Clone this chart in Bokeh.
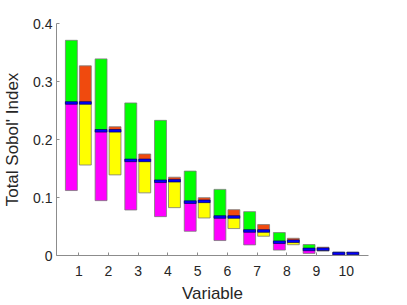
from bokeh.plotting import figure
from bokeh.models import Range1d, FixedTicker, ColumnDataSource
from bokeh.embed import file_html
from bokeh.resources import INLINE

# ---- data ----
variables = [1, 2, 3, 4, 5, 6, 7, 8, 9, 10]

# first estimator (magenta lower part / green upper part)
a_low  = [0.112, 0.0946, 0.0785, 0.067, 0.0418, 0.0258, 0.0183, 0.0093, 0.0036, 0.0005]
a_med  = [0.263, 0.215, 0.164, 0.128, 0.092, 0.0664, 0.0423, 0.0229, 0.0105, 0.0034]
a_high = [0.371, 0.339, 0.263, 0.233, 0.1455, 0.114, 0.0756, 0.0395, 0.0189, 0.0057]

# second estimator (yellow lower part / orange upper part)
b_low  = [0.156, 0.139, 0.108, 0.0825, 0.0647, 0.0464, 0.0332, 0.0186, 0.0076, 0.0008]
b_med  = [0.263, 0.215, 0.164, 0.129, 0.0934, 0.0664, 0.0423, 0.0246, 0.0108, 0.0034]
b_high = [0.327, 0.222, 0.175, 0.135, 0.0997, 0.079, 0.0533, 0.0297, 0.0143, 0.0055]

y_ticks = [0, 0.1, 0.2, 0.3, 0.4]
y_tick_labels = ["0", "0.1", "0.2", "0.3", "0.4"]

# ---- layout constants ----
OFF_A, OFF_B, HALF_W = -0.25, 0.22, 0.2
FONT = "Liberation Sans"
EDGE = "#7a7a7a"

xa = [v + OFF_A for v in variables]
xb = [v + OFF_B for v in variables]

src = ColumnDataSource(dict(
    xa=xa, xb=xb,
    xa_l=[x - HALF_W for x in xa], xa_r=[x + HALF_W for x in xa],
    xb_l=[x - HALF_W for x in xb], xb_r=[x + HALF_W for x in xb],
    a_low=a_low, a_med=a_med, a_high=a_high,
    b_low=b_low, b_med=b_med, b_high=b_high,
))

p = figure(width=400, height=305, output_backend="svg", toolbar_location=None,
           x_range=Range1d(0.25, 10.75), y_range=Range1d(0, 0.4),
           min_border_left=54, min_border_right=32, min_border_top=23, min_border_bottom=50)
p.outline_line_color = None
p.xgrid.visible = False
p.ygrid.visible = False
p.background_fill_color = "white"
p.border_fill_color = "white"

common = dict(source=src, line_color=EDGE, line_width=1, line_alpha=0.8)
p.quad(left="xa_l", right="xa_r", bottom="a_low", top="a_med", fill_color="#FF00FF", **common)
p.quad(left="xa_l", right="xa_r", bottom="a_med", top="a_high", fill_color="#00FF00", **common)
p.quad(left="xb_l", right="xb_r", bottom="b_low", top="b_med", fill_color="#FFFF00", **common)
p.quad(left="xb_l", right="xb_r", bottom="b_med", top="b_high", fill_color="#F04A0E", **common)

p.rect(x="xa", y="a_med", width=2 * HALF_W, height=2.6, height_units="screen", source=src,
       fill_color="#0000FF", line_color="#000060", line_width=0.7)
p.rect(x="xb", y="b_med", width=2 * HALF_W, height=2.6, height_units="screen", source=src,
       fill_color="#0000FF", line_color="#000060", line_width=0.7)

# axes
p.xaxis.ticker = FixedTicker(ticks=variables)
p.yaxis.ticker = FixedTicker(ticks=y_ticks)
p.yaxis.major_label_overrides = {t: l for t, l in zip(y_ticks, y_tick_labels)}
p.xaxis.axis_label = "Variable"
p.yaxis.axis_label = "Total Sobol' Index"
for ax in (p.xaxis, p.yaxis):
    ax.axis_line_color = "#8c8c8c"
    ax.major_tick_line_color = "#8c8c8c"
    ax.major_tick_in = 3
    ax.major_tick_out = 0
    ax.minor_tick_line_color = None
    ax.major_label_text_font = FONT
    ax.major_label_text_font_size = "14px"
    ax.major_label_text_color = "#262626"
    ax.axis_label_text_font = FONT
    ax.axis_label_text_font_size = "17px"
    ax.axis_label_text_font_style = "normal"
    ax.axis_label_text_color = "#262626"
p.xaxis.major_label_standoff = 10
p.yaxis.major_label_standoff = 4
p.xaxis.axis_label_standoff = 5
p.yaxis.axis_label_standoff = 8

open("out.html", "w").write(file_html(p, INLINE))
